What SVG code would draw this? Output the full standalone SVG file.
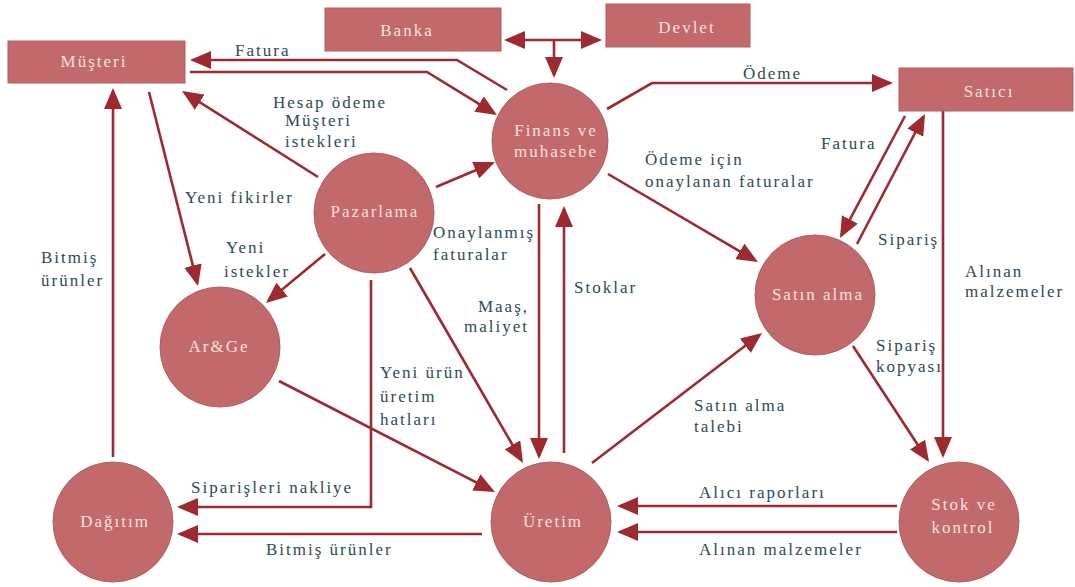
<svg xmlns="http://www.w3.org/2000/svg" width="1075" height="587" viewBox="0 0 1075 587">
  <defs>
    <marker id="arrow" markerUnits="userSpaceOnUse" markerWidth="21" markerHeight="18" refX="18" refY="9" orient="auto-start-reverse">
      <path d="M0,0 L21,9 L0,18 z" fill="#9c2a30"/>
    </marker>
    <style>
      .node { fill: #c1696b; stroke: #b35d5f; stroke-width: 1; }
      .ntext { font-family: "Liberation Serif", serif; font-size: 17px; letter-spacing: 2px; fill: #f9e2de; text-anchor: middle; }
      .edge { fill: none; stroke: #9c2a30; stroke-width: 2.6; }
      .arr { marker-end: url(#arrow); }
      .label { font-family: "Liberation Serif", serif; font-size: 17px; letter-spacing: 2px; fill: #2d4a55; }
    </style>
  </defs>
  <rect width="1075" height="587" fill="#ffffff"/>

  <!-- connectors -->
  <g id="connectors">
    <polyline class="edge arr" points="507,90 457,60 193,60"/>
    <polyline class="edge arr" points="190,72 427,72 494.4,113.4"/>
    <line class="edge" x1="507" y1="40" x2="599" y2="40" marker-start="url(#arrow)" marker-end="url(#arrow)"/>
    <line class="edge arr" x1="554" y1="40" x2="554" y2="75"/>
    <polyline class="edge arr" points="607,109 652,83 890,83"/>
    <line class="edge arr" x1="608" y1="174" x2="755.4" y2="260.5"/>
    <line class="edge arr" x1="905" y1="116" x2="841.4" y2="235.3"/>
    <line class="edge arr" x1="857" y1="244" x2="923.6" y2="116.7"/>
    <line class="edge arr" x1="943" y1="111" x2="943" y2="455"/>
    <line class="edge arr" x1="853" y1="346" x2="927.4" y2="459.5"/>
    <line class="edge arr" x1="897" y1="506" x2="620" y2="506"/>
    <line class="edge arr" x1="897" y1="532" x2="620" y2="532"/>
    <line class="edge arr" x1="592" y1="463" x2="759.6" y2="334.8"/>
    <line class="edge arr" x1="482" y1="534" x2="180" y2="534"/>
    <polyline class="edge arr" points="371,280 371,507 180,507"/>
    <line class="edge arr" x1="113" y1="457" x2="113" y2="91"/>
    <line class="edge arr" x1="279" y1="381" x2="492.3" y2="490.6"/>
    <line class="edge arr" x1="410" y1="268" x2="521.5" y2="460.4"/>
    <line class="edge arr" x1="436" y1="187" x2="492.2" y2="163.2"/>
    <line class="edge arr" x1="318" y1="177" x2="184.5" y2="92.6"/>
    <line class="edge arr" x1="149" y1="92" x2="197.3" y2="283.1"/>
    <line class="edge arr" x1="325" y1="254" x2="268.3" y2="301.1"/>
    <line class="edge arr" x1="539" y1="204" x2="539" y2="456"/>
    <line class="edge arr" x1="564" y1="453" x2="564" y2="209"/>
  </g>

  <!-- connector labels -->
  <g id="labels">
    <text class="label" x="235" y="56">Fatura</text>
    <text class="label" x="273" y="108">Hesap ödeme</text>
    <text class="label" x="285" y="126">Müşteri</text>
    <text class="label" x="285" y="147">istekleri</text>
    <text class="label" x="185" y="203">Yeni fikirler</text>
    <text class="label" x="226" y="253">Yeni</text>
    <text class="label" x="224" y="277">istekler</text>
    <text class="label" x="41" y="263">Bitmiş</text>
    <text class="label" x="41" y="286">ürünler</text>
    <text class="label" x="743" y="79">Ödeme</text>
    <text class="label" x="821" y="149">Fatura</text>
    <text class="label" x="645" y="165">Ödeme için</text>
    <text class="label" x="645" y="187">onaylanan faturalar</text>
    <text class="label" x="878" y="245">Sipariş</text>
    <text class="label" x="965" y="277">Alınan</text>
    <text class="label" x="965" y="297">malzemeler</text>
    <text class="label" x="876" y="351">Sipariş</text>
    <text class="label" x="876" y="372">kopyası</text>
    <text class="label" x="433" y="238">Onaylanmış</text>
    <text class="label" x="433" y="260">faturalar</text>
    <text class="label" x="574" y="293">Stoklar</text>
    <text class="label" x="529" y="312" text-anchor="end">Maaş,</text>
    <text class="label" x="529" y="332" text-anchor="end">maliyet</text>
    <text class="label" x="380" y="378">Yeni ürün</text>
    <text class="label" x="380" y="402">üretim</text>
    <text class="label" x="380" y="425">hatları</text>
    <text class="label" x="694" y="411">Satın alma</text>
    <text class="label" x="694" y="432">talebi</text>
    <text class="label" x="699" y="498">Alıcı raporları</text>
    <text class="label" x="699" y="555">Alınan malzemeler</text>
    <text class="label" x="191" y="493">Siparişleri nakliye</text>
    <text class="label" x="266" y="555">Bitmiş ürünler</text>
  </g>

  <!-- nodes -->
  <g id="musteri">
    <rect class="node" x="8" y="41" width="177" height="42"/>
    <text class="ntext" x="94" y="67">Müşteri</text>
  </g>
  <g id="banka">
    <rect class="node" x="325" y="8" width="176" height="43"/>
    <text class="ntext" x="407" y="36">Banka</text>
  </g>
  <g id="devlet">
    <rect class="node" x="606" y="4" width="144" height="43"/>
    <text class="ntext" x="687" y="33">Devlet</text>
  </g>
  <g id="satici">
    <rect class="node" x="899" y="68" width="174" height="43"/>
    <text class="ntext" x="989" y="97">Satıcı</text>
  </g>
  <g id="finans">
    <circle class="node" cx="550" cy="141" r="58"/>
    <text class="ntext" x="556" y="136">Finans ve</text>
    <text class="ntext" x="556" y="157">muhasebe</text>
  </g>
  <g id="pazarlama">
    <circle class="node" cx="374" cy="213" r="60"/>
    <text class="ntext" x="375" y="217">Pazarlama</text>
  </g>
  <g id="arge">
    <circle class="node" cx="220" cy="347" r="60"/>
    <text class="ntext" x="219" y="352">Ar&amp;Ge</text>
  </g>
  <g id="dagitim">
    <circle class="node" cx="113" cy="522" r="60"/>
    <text class="ntext" x="115" y="527">Dağıtım</text>
  </g>
  <g id="uretim">
    <circle class="node" cx="551" cy="522" r="60"/>
    <text class="ntext" x="553" y="527">Üretim</text>
  </g>
  <g id="satinalma">
    <circle class="node" cx="815" cy="295" r="60"/>
    <text class="ntext" x="818" y="300">Satın alma</text>
  </g>
  <g id="stok">
    <circle class="node" cx="959" cy="522" r="60"/>
    <text class="ntext" x="964" y="510">Stok ve</text>
    <text class="ntext" x="963" y="533">kontrol</text>
  </g>
</svg>
